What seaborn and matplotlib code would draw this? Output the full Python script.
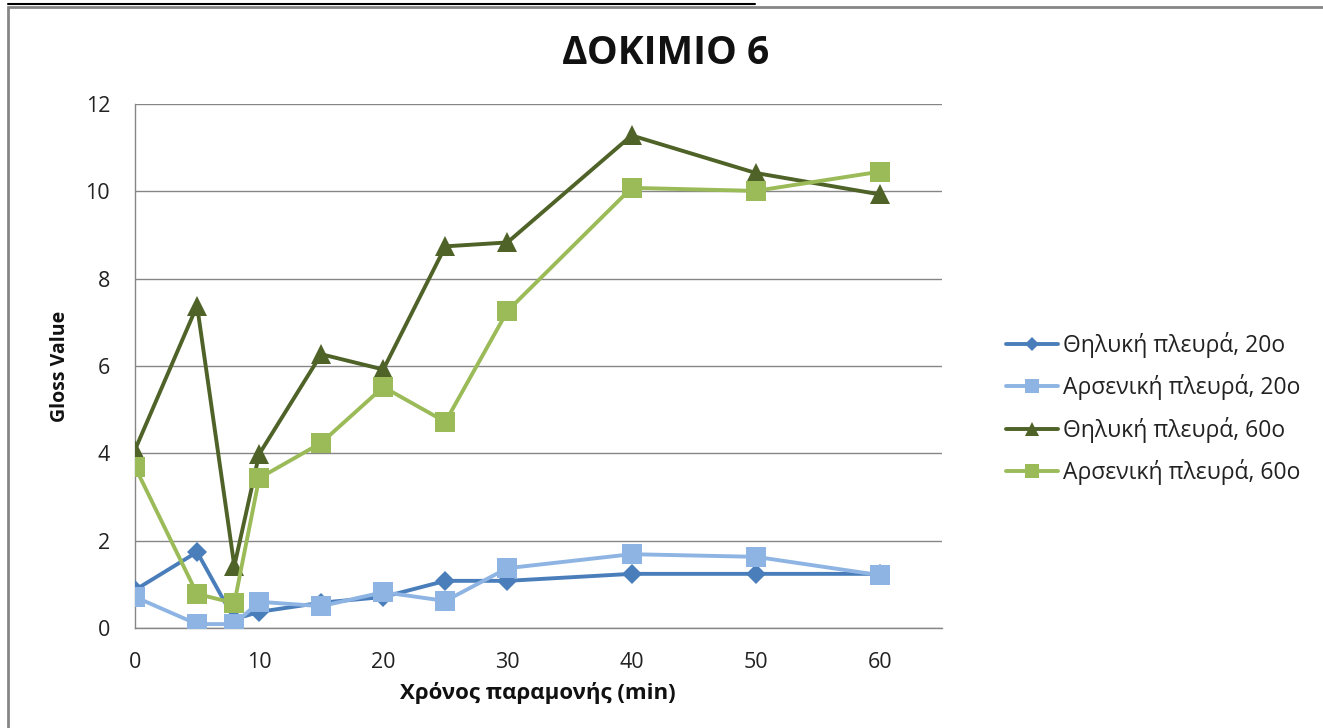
import matplotlib
matplotlib.use("Agg")
import matplotlib.pyplot as plt
from matplotlib.lines import Line2D
from matplotlib.patches import Rectangle
import seaborn as sns
import pandas as pd

# Residence time (min)
time_min = [0, 5, 8, 10, 15, 20, 25, 30, 40, 50, 60]

# Gloss values per series
female_20 = [0.87, 1.74, 0.20, 0.37, 0.58, 0.71, 1.08, 1.08, 1.24, 1.24, 1.24]
male_20 = [0.71, 0.09, 0.09, 0.60, 0.50, 0.82, 0.62, 1.37, 1.69, 1.63, 1.21]
female_60 = [4.08, 7.38, 1.42, 3.98, 6.27, 5.92, 8.74, 8.83, 11.28, 10.42, 9.93]
male_60 = [3.69, 0.78, 0.57, 3.43, 4.24, 5.52, 4.72, 7.26, 10.08, 10.01, 10.45]

series_names = ["Θηλυκή πλευρά, 20o", "Αρσενική πλευρά, 20o",
                "Θηλυκή πλευρά, 60o", "Αρσενική πλευρά, 60o"]
series_values = [female_20, male_20, female_60, male_60]

title_text = "ΔΟΚΙΜΙΟ 6"
x_label = "Χρόνος παραμονής (min)"
y_label = "Gloss Value"
x_ticks = [0, 10, 20, 30, 40, 50, 60]
y_ticks = [0, 2, 4, 6, 8, 10, 12]

colors = ["#4A7EBB", "#8EB4E3", "#4F6228", "#9BBB59"]
markers = ["D", "s", "^", "s"]
msizes = [10, 14.5, 15, 14.5]

sns.set_style("white")
plt.rcParams["font.family"] = ["Open Sans", "DejaVu Sans"]

df = pd.DataFrame({
    "time": time_min * len(series_names),
    "gloss": [v for vals in series_values for v in vals],
    "series": [n for n in series_names for _ in time_min],
})

W, H = 1323, 728
fig = plt.figure(figsize=(W / 100, H / 100), dpi=100)
ax = fig.add_axes([135 / W, 1 - 628 / H, (942 - 135) / W, (628 - 104) / H])

for i, name in enumerate(series_names):
    sns.lineplot(data=df[df["series"] == name], x="time", y="gloss", ax=ax,
                 color=colors[i], marker=markers[i], markersize=msizes[i],
                 markeredgewidth=0, linewidth=2.8, label=name, zorder=3 + i)

ax.set_xlim(0, 65)
ax.set_ylim(0, 12)
ax.set_xticks(x_ticks)
ax.set_yticks(y_ticks)
ax.tick_params(axis="both", labelsize=15.5, colors="#868686", labelcolor="#222222")
ax.tick_params(axis="x", length=5, width=1, direction="out", pad=12)
ax.tick_params(axis="y", length=7, width=1, direction="out", pad=11)
ax.yaxis.grid(True, color="#868686", linewidth=1)
ax.set_axisbelow(True)
for side in ["top", "right"]:
    ax.spines[side].set_visible(False)
for side in ["left", "bottom"]:
    ax.spines[side].set_color("#868686")
    ax.spines[side].set_linewidth(1)

ax.set_xlabel("")
ax.set_ylabel("")
fig.text(538 / W, 1 - 693 / H, x_label, ha="center", va="center",
         fontsize=16, fontweight="bold", color="#111111")
fig.text(60 / W, 1 - 366 / H, y_label, ha="center", va="center", rotation=90,
         fontsize=14, fontweight="bold", color="#111111")
fig.text(666 / W, 1 - 53 / H, title_text, ha="center", va="center",
         fontsize=28, fontweight="bold", color="#111111")

leg = ax.legend(loc="upper left", bbox_to_anchor=(995 / W, 1 - 321 / H),
                bbox_transform=fig.transFigure, frameon=False, fontsize=16.5,
                handlelength=2.25, handletextpad=0.2, labelspacing=0.7,
                markerscale=0.7, borderpad=0)
for t in leg.get_texts():
    t.set_color("#222222")

# Chart area frame and the rule above it
fig.patches.append(Rectangle((8 / W, -0.1), 1.2, 1 - 7.5 / H + 0.1,
                             transform=fig.transFigure, fill=False,
                             edgecolor="#868686", linewidth=2))
fig.lines.append(Line2D([8 / W, 755 / W], [1 - 4 / H, 1 - 4 / H],
                        transform=fig.transFigure, color="black", linewidth=1.5))

fig.savefig("out.png", dpi=100, facecolor="white")
